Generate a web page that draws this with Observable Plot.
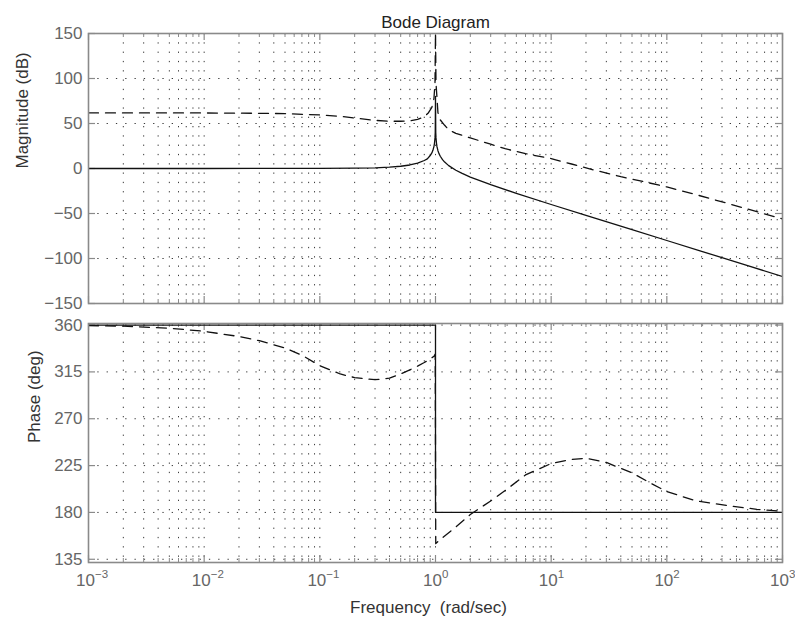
<!DOCTYPE html>
<html><head><meta charset="utf-8">
<script src="https://cdn.jsdelivr.net/npm/d3@7"></script>
<script src="https://cdn.jsdelivr.net/npm/@observablehq/plot@0.6"></script>
<style>html,body{margin:0;padding:0;background:#fff}#chart svg{display:block}</style>
</head><body><div id="chart"></div>
<script>
// ---- axis ticks / labels ----
const majorX = [0.001, 0.01, 0.1, 1, 10, 100, 1000];
const xExponents = ["\u22123", "\u22122", "\u22121", "0", "1", "2", "3"];
const minorMultipliers = [2, 3, 4, 5, 6, 7, 8, 9];
const magTicks = [-150, -100, -50, 0, 50, 100, 150];
const phaseTicks = [135, 180, 225, 270, 315, 360];
const titleText = "Bode Diagram";
const xLabel = "Frequency\u00a0\u00a0(rad/sec)";
const magLabel = "Magnitude (dB)";
const phaseLabel = "Phase (deg)";

// ---- solid series: magnitude ----
const solidMagW  = [0.001, 0.01, 0.1, 0.2, 0.3, 0.4, 0.5, 0.6, 0.7, 0.8, 0.85, 0.9, 0.93, 0.95, 0.97, 0.98, 0.99, 0.995, 1.0, 1.005, 1.01, 1.02, 1.03, 1.05, 1.07, 1.1, 1.15, 1.2, 1.3, 1.5, 1.7, 2, 3, 5, 10, 20, 50, 100, 200, 500, 1000];
const solidMagDb = [0, 0, 0.1, 0.4, 0.8, 1.5, 2.5, 3.9, 5.9, 8.9, 10.7, 14.4, 17.3, 20.2, 24.6, 28, 34, 40, 80, 40, 34, 28, 24.3, 19.8, 16.8, 13.6, 9.8, 7.1, 3.2, -1.9, -5.5, -9.5, -18, -27.6, -40, -52, -68, -80, -92, -108, -120];
// ---- dashed series: magnitude ----
const dashMagW  = [0.001, 0.002, 0.005, 0.01, 0.02, 0.05, 0.1, 0.15, 0.2, 0.3, 0.4, 0.5, 0.6, 0.7, 0.8, 0.87, 0.93, 0.97, 0.99, 1.0, 1.01, 1.05, 1.1, 1.2, 1.3, 1.5, 2, 3, 4, 6, 10, 15, 24, 40, 65, 100, 190, 340, 600, 1000];
const dashMagDb = [61.8, 61.8, 61.8, 61.7, 61.5, 61, 59.5, 58, 56, 53.5, 52.5, 52.5, 53, 54.5, 57.5, 62, 68, 78, 95, 150, 95, 62, 54, 48, 43, 39, 34, 27, 22, 16.5, 11, 5, -2, -9, -15, -20.5, -30, -39, -48, -56];
// ---- solid series: phase ----
const solidPhW   = [0.001, 1, 1, 1000];
const solidPhDeg = [360, 360, 180, 180];
// ---- dashed series: phase ----
const dashPhW   = [0.001, 0.002, 0.005, 0.01, 0.02, 0.03, 0.05, 0.07, 0.1, 0.15, 0.2, 0.3, 0.4, 0.5, 0.6, 0.7, 0.8, 0.9, 0.97, 0.995, 1.005, 1.07, 1.5, 2, 3, 4, 6, 10, 15, 20, 30, 50, 70, 100, 180, 340, 600, 1000];
const dashPhDeg = [359.5, 359, 357, 354, 349, 345, 338, 331, 321, 313, 309.5, 307.5, 309, 313, 317, 320.5, 324, 327.5, 330, 332, 150, 153, 166, 178, 191, 201, 216, 227, 231, 232, 228, 218, 209, 200, 191, 186.5, 183, 181];

const minorX = majorX.slice(0, -1).flatMap(d => minorMultipliers.map(k => k * d));
const fmtY = d => d < 0 ? "\u2212" + (-d) : String(d);

const W = 795, ML = 88, MR = 13;
const FONT = "'Liberation Sans', Arial, Helvetica, sans-serif";
const FRAME = "#8a8a8a";
const GRID = "#3a3a3a";
const LINE = "#111";

function panel({height, marginTop, marginBottom, yDomain, yTicks, series, extra}) {
  const innerH = height - marginTop - marginBottom;
  const innerW = W - ML - MR;
  return Plot.plot({
    width: W, height, marginTop, marginBottom, marginLeft: ML, marginRight: MR,
    style: {fontFamily: FONT, fontSize: "17px", background: "white", overflow: "visible"},
    x: {type: "log", domain: [0.001, 1000], axis: null},
    y: {domain: yDomain},
    marks: [
      Plot.ruleX([...majorX, ...minorX], {stroke: GRID, strokeWidth: 1, strokeDasharray: "1.3,8"}),
      Plot.ruleY(yTicks, {stroke: GRID, strokeWidth: 1, strokeDasharray: "1.3,8"}),
      Plot.ruleX(majorX, {stroke: FRAME, strokeWidth: 1.2, insetTop: innerH - 7}),
      Plot.ruleX(majorX, {stroke: FRAME, strokeWidth: 1.2, insetBottom: innerH - 7}),
      Plot.ruleX(minorX, {stroke: FRAME, strokeWidth: 1, insetTop: innerH - 4}),
      Plot.ruleX(minorX, {stroke: FRAME, strokeWidth: 1, insetBottom: innerH - 4}),
      Plot.ruleY(yTicks, {stroke: FRAME, strokeWidth: 1.2, insetRight: innerW - 7}),
      Plot.ruleY(yTicks, {stroke: FRAME, strokeWidth: 1.2, insetLeft: innerW - 7}),
      ...series.map(s => Plot.line(s.y, {x: s.x, y: s.y, stroke: LINE, strokeWidth: 1.3,
        strokeDasharray: s.dash ? "10,7" : null, clip: true})),
      Plot.frame({stroke: FRAME, strokeWidth: 1.6}),
      Plot.axisY({ticks: yTicks, tickSize: 0, tickPadding: 6, tickFormat: fmtY, fill: "#666", label: null}),
      ...extra
    ]
  });
}

const magPanel = panel({
  height: 310, marginTop: 33, marginBottom: 7,
  yDomain: [-150, 150], yTicks: magTicks,
  series: [
    {x: dashMagW, y: dashMagDb, dash: true},
    {x: solidMagW, y: solidMagDb, dash: false}
  ],
  extra: [
    Plot.text([titleText], {text: d => d, frameAnchor: "top", dy: -18, fontSize: 17, fill: "#222"}),
    Plot.text([magLabel], {text: d => d, frameAnchor: "left", rotate: -90, dx: -66, fontSize: 17, fill: "#333"})
  ]
});

const phasePanel = panel({
  height: 314, marginTop: 13, marginBottom: 62,
  yDomain: [131.9, 361.5], yTicks: phaseTicks,
  series: [
    {x: dashPhW, y: dashPhDeg, dash: true},
    {x: solidPhW, y: solidPhDeg, dash: false}
  ],
  extra: [
    Plot.text(majorX, {x: d => d, text: () => "10", frameAnchor: "bottom", dy: 23, dx: -3, fontSize: 17, fill: "#666"}),
    Plot.text(majorX, {x: d => d, text: (d, i) => xExponents[i], frameAnchor: "bottom", dy: 15, dx: 6.5, textAnchor: "start", fontSize: 11.5, fill: "#666"}),
    Plot.text([xLabel], {text: d => d, frameAnchor: "bottom", dy: 50, dx: -7, fontSize: 17, fill: "#333"}),
    Plot.text([phaseLabel], {text: d => d, frameAnchor: "left", rotate: -90, dx: -54, fontSize: 17, fill: "#333"})
  ]
});

document.getElementById("chart").append(magPanel, phasePanel);
</script>
</body></html>
